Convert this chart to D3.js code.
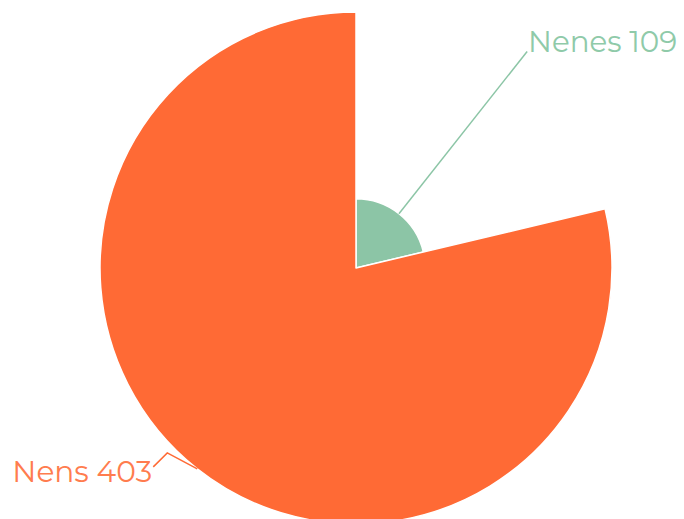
<!DOCTYPE html>
<html><head><meta charset="utf-8">
<script src="https://cdn.jsdelivr.net/npm/d3@7"></script>
<style>html,body{margin:0;padding:0;background:#fff;}svg{display:block;}</style>
</head><body>
<svg id="chart" width="684" height="519"></svg>
<script>
const categories = ["Nenes", "Nens"];
const values = [109, 403];
const colors = ["#8cc5a6", "#ff6a35"];
const labelColors = ["#8fcaa9", "#ff7c4e"];

const svg = d3.select("#chart");
const cx = 356, cy = 268, maxR = 256;
const g = svg.append("g").attr("transform", `translate(${cx},${cy})`);

const data = categories.map((c, i) => ({name: c, value: values[i], color: colors[i], lc: labelColors[i]}));
const pie = d3.pie().sort(null).value(d => d.value).startAngle(0).endAngle(2 * Math.PI);
const rScale = d3.scaleLinear().domain([0, d3.max(values)]).range([0, maxR]);
const arcs = pie(data);

g.selectAll("path.slice").data(arcs).join("path")
  .attr("class", "slice")
  .attr("d", d => d3.arc().innerRadius(0).outerRadius(rScale(d.data.value))(d))
  .attr("fill", d => d.data.color)
  .attr("stroke", "#fff").attr("stroke-width", 1.5).attr("stroke-linejoin", "round");

function polar(a, r) { return [r * Math.sin(a), -r * Math.cos(a)]; }

const font = "Montserrat, Lato, 'Open Sans', sans-serif";
arcs.forEach((d, i) => {
  const mid = (d.startAngle + d.endAngle) / 2;
  const r = rScale(d.data.value);
  const p0 = polar(mid, r);
  let pts, tx, ty, anchor, tl;
  if (i === 0) {
    const p1 = polar(mid, maxR + 20);
    pts = [p0, p1];
    tx = p1[0] + 1; ty = p1[1] + 1; anchor = "start"; tl = 149;
  } else {
    const p1 = [p0[0] - 30, p0[1] - 16];
    const p2 = [p1[0] - 14, p1[1] + 14];
    pts = [p0, p1, p2];
    tx = p2[0] - 1; ty = p2[1] + 15; anchor = "end"; tl = 140;
  }
  g.append("path").attr("d", d3.line()(pts)).attr("fill", "none")
    .attr("stroke", d.data.color).attr("stroke-width", 1.5);
  g.append("text").attr("x", tx).attr("y", ty).attr("text-anchor", anchor)
    .attr("fill", d.data.lc).style("font-family", font).style("font-size", "29px")
    .attr("textLength", tl).attr("lengthAdjust", "spacingAndGlyphs")
    .text(`${d.data.name} ${d.data.value}`);
});
</script>
</body></html>
